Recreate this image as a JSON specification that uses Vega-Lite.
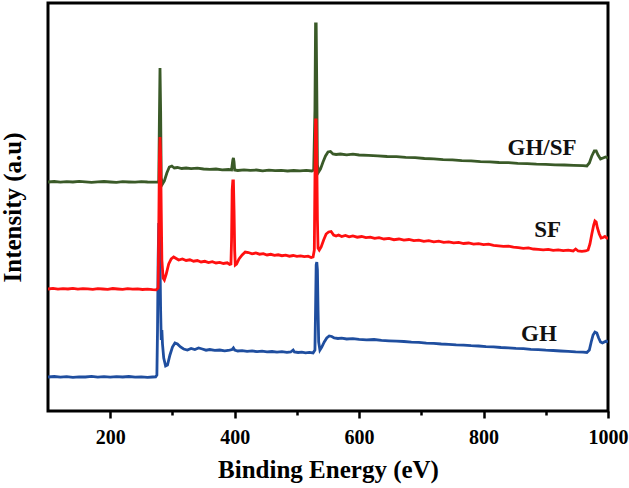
{
  "$schema": "https://vega.github.io/schema/vega-lite/v6.json",
  "width": 560,
  "height": 408,
  "autosize": {"type": "none"},
  "padding": {"left": 48, "top": 3, "right": 21, "bottom": 77},
  "background": "white",
  "config": {"view": {"stroke": "black", "strokeWidth": 3}, "font": "Liberation Serif"},
  "datasets": {
    "ghsf": [
      {"x":100,"y":228},{"x":110,"y":228.5},{"x":120,"y":227.8},{"x":130,"y":228.3},{"x":140,"y":228},{"x":150,"y":228.6},{"x":160,"y":228.1},{"x":170,"y":227.7},{"x":180,"y":228.2},{"x":190,"y":228.5},{"x":200,"y":228},{"x":210,"y":227.6},{"x":220,"y":228.3},{"x":230,"y":228},{"x":240,"y":227.8},{"x":250,"y":228.4},{"x":260,"y":228},{"x":270,"y":227.9},{"x":276,"y":228},{"x":278,"y":229},{"x":279,"y":290},{"x":280,"y":342},{"x":281,"y":300},{"x":282,"y":232},{"x":284,"y":226},{"x":287,"y":229},{"x":291,"y":237},{"x":295,"y":243},{"x":299,"y":244},{"x":303,"y":242},{"x":308,"y":242.5},{"x":315,"y":241.5},{"x":322,"y":242},{"x":330,"y":241.3},{"x":340,"y":241.8},{"x":350,"y":241},{"x":360,"y":240.6},{"x":370,"y":241},{"x":380,"y":240.2},{"x":390,"y":240.5},{"x":395,"y":240},{"x":397,"y":250},{"x":398,"y":252},{"x":399,"y":248},{"x":400,"y":240},{"x":405,"y":239.5},{"x":415,"y":240.2},{"x":425,"y":239.6},{"x":435,"y":240},{"x":445,"y":239.2},{"x":455,"y":239.8},{"x":465,"y":239.3},{"x":475,"y":239.7},{"x":485,"y":239},{"x":495,"y":239.5},{"x":505,"y":239.2},{"x":515,"y":239.6},{"x":524,"y":239},{"x":527,"y":240},{"x":529,"y":300},{"x":530,"y":386},{"x":531,"y":386},{"x":532,"y":320},{"x":533,"y":245},{"x":535,"y":238},{"x":538,"y":241},{"x":542,"y":248},{"x":546,"y":254},{"x":550,"y":258},{"x":554,"y":258.5},{"x":558,"y":256},{"x":563,"y":255.5},{"x":570,"y":256},{"x":580,"y":255.2},{"x":590,"y":255.8},{"x":600,"y":255},{"x":615,"y":254.6},{"x":630,"y":254.2},{"x":645,"y":253.5},{"x":660,"y":253.3},{"x":675,"y":252.6},{"x":690,"y":252.3},{"x":705,"y":251.5},{"x":720,"y":251.2},{"x":735,"y":250.4},{"x":750,"y":250.1},{"x":765,"y":249.4},{"x":780,"y":249.2},{"x":795,"y":248.4},{"x":810,"y":248.1},{"x":825,"y":247.5},{"x":840,"y":247.3},{"x":855,"y":246.6},{"x":870,"y":246.4},{"x":885,"y":245.8},{"x":900,"y":245.6},{"x":915,"y":245.2},{"x":930,"y":245},{"x":945,"y":244.6},{"x":960,"y":244.3},{"x":966,"y":244},{"x":970,"y":247},{"x":974,"y":254},{"x":978,"y":259},{"x":981,"y":259},{"x":984,"y":255},{"x":988,"y":251},{"x":992,"y":252},{"x":996,"y":253},{"x":1000,"y":252}
    ],
    "sf": [
      {"x":100,"y":121},{"x":108,"y":121.6},{"x":116,"y":120.8},{"x":124,"y":121.4},{"x":132,"y":121},{"x":140,"y":121.7},{"x":148,"y":120.9},{"x":156,"y":121.3},{"x":164,"y":121.1},{"x":172,"y":120.6},{"x":180,"y":121.4},{"x":188,"y":121},{"x":196,"y":120.7},{"x":204,"y":121.5},{"x":212,"y":121},{"x":220,"y":120.6},{"x":228,"y":121.3},{"x":236,"y":120.8},{"x":244,"y":121.2},{"x":252,"y":120.5},{"x":260,"y":120.9},{"x":268,"y":120.3},{"x":274,"y":120.2},{"x":277,"y":122},{"x":278,"y":180},{"x":279,"y":250},{"x":280,"y":273},{"x":281,"y":255},{"x":282,"y":200},{"x":283,"y":150},{"x":285,"y":132},{"x":287,"y":130},{"x":290,"y":136},{"x":294,"y":146},{"x":298,"y":151},{"x":302,"y":153},{"x":306,"y":151.5},{"x":310,"y":150},{"x":316,"y":151},{"x":322,"y":149.5},{"x":328,"y":150.2},{"x":334,"y":148.8},{"x":340,"y":149.5},{"x":346,"y":148},{"x":352,"y":148.7},{"x":358,"y":147.5},{"x":364,"y":148.3},{"x":370,"y":147},{"x":376,"y":147.6},{"x":382,"y":146.5},{"x":388,"y":147.2},{"x":392,"y":145.5},{"x":394,"y":146},{"x":395,"y":170},{"x":396,"y":220},{"x":397,"y":229},{"x":398,"y":229},{"x":399,"y":200},{"x":400,"y":160},{"x":401,"y":145},{"x":403,"y":146},{"x":407,"y":151},{"x":412,"y":155},{"x":417,"y":158},{"x":422,"y":157.5},{"x":428,"y":156.2},{"x":434,"y":157},{"x":440,"y":155.8},{"x":446,"y":156.3},{"x":452,"y":155},{"x":458,"y":155.7},{"x":464,"y":154.6},{"x":470,"y":155.2},{"x":476,"y":154.3},{"x":482,"y":154.9},{"x":488,"y":153.8},{"x":494,"y":154.5},{"x":500,"y":153.6},{"x":506,"y":154.2},{"x":512,"y":153.4},{"x":518,"y":153.8},{"x":523,"y":152.5},{"x":526,"y":153},{"x":528,"y":160},{"x":529,"y":230},{"x":530,"y":290},{"x":531,"y":290},{"x":532,"y":250},{"x":533,"y":190},{"x":534,"y":162},{"x":536,"y":160},{"x":539,"y":163},{"x":543,"y":170},{"x":547,"y":176},{"x":551,"y":178},{"x":555,"y":178.5},{"x":559,"y":175},{"x":563,"y":174},{"x":567,"y":175},{"x":572,"y":173.5},{"x":578,"y":174.6},{"x":584,"y":173.2},{"x":590,"y":174},{"x":597,"y":172.8},{"x":604,"y":173.5},{"x":611,"y":172.3},{"x":618,"y":172.8},{"x":625,"y":171.6},{"x":632,"y":172.3},{"x":640,"y":171},{"x":648,"y":171.6},{"x":656,"y":170.3},{"x":664,"y":171},{"x":672,"y":169.8},{"x":680,"y":170.5},{"x":688,"y":169.4},{"x":696,"y":169.8},{"x":704,"y":168.6},{"x":712,"y":169.3},{"x":720,"y":168.2},{"x":728,"y":168.8},{"x":736,"y":167.6},{"x":744,"y":168.2},{"x":752,"y":167.1},{"x":760,"y":167.6},{"x":768,"y":166.5},{"x":776,"y":167},{"x":784,"y":165.8},{"x":792,"y":166.4},{"x":800,"y":165.3},{"x":808,"y":165.8},{"x":816,"y":164.6},{"x":824,"y":164.2},{"x":832,"y":163.6},{"x":840,"y":163.9},{"x":848,"y":162.8},{"x":856,"y":162.3},{"x":864,"y":161.7},{"x":872,"y":162.1},{"x":880,"y":161},{"x":888,"y":160.6},{"x":896,"y":160.2},{"x":904,"y":160.7},{"x":912,"y":159.7},{"x":920,"y":160.1},{"x":928,"y":159.3},{"x":936,"y":159.8},{"x":944,"y":159},{"x":948,"y":161},{"x":952,"y":159},{"x":958,"y":158.6},{"x":964,"y":159},{"x":968,"y":160},{"x":971,"y":166},{"x":974,"y":176},{"x":977,"y":185},{"x":979,"y":189},{"x":981,"y":188},{"x":983,"y":182},{"x":986,"y":176},{"x":989,"y":172},{"x":992,"y":172.5},{"x":995,"y":173.5},{"x":998,"y":172},{"x":1000,"y":172}
    ],
    "gh": [
      {"x":100,"y":33},{"x":110,"y":33.5},{"x":120,"y":32.8},{"x":130,"y":33.3},{"x":140,"y":32.7},{"x":150,"y":33.2},{"x":160,"y":33},{"x":170,"y":33.6},{"x":180,"y":32.9},{"x":190,"y":33.3},{"x":200,"y":32.8},{"x":210,"y":33.4},{"x":220,"y":33},{"x":230,"y":33.5},{"x":240,"y":32.9},{"x":250,"y":33.2},{"x":260,"y":32.7},{"x":268,"y":33},{"x":273,"y":33.2},{"x":275,"y":35},{"x":276,"y":80},{"x":277,"y":150},{"x":278,"y":187},{"x":279,"y":180},{"x":280,"y":150},{"x":281,"y":100},{"x":282,"y":70},{"x":283,"y":80},{"x":284,"y":66},{"x":286,"y":52},{"x":289,"y":44},{"x":292,"y":45},{"x":296,"y":55},{"x":300,"y":63},{"x":304,"y":67},{"x":308,"y":66},{"x":313,"y":63},{"x":318,"y":61},{"x":324,"y":60},{"x":330,"y":61.5},{"x":336,"y":60.5},{"x":342,"y":62},{"x":348,"y":61},{"x":354,"y":59.8},{"x":360,"y":60.5},{"x":368,"y":59.6},{"x":376,"y":60},{"x":384,"y":59.2},{"x":392,"y":59.8},{"x":396,"y":60.5},{"x":398,"y":62},{"x":400,"y":60},{"x":405,"y":59},{"x":412,"y":59.4},{"x":420,"y":58.6},{"x":428,"y":59.1},{"x":436,"y":58.3},{"x":444,"y":58.8},{"x":452,"y":58.1},{"x":460,"y":58.5},{"x":468,"y":57.8},{"x":476,"y":58.3},{"x":484,"y":57.6},{"x":490,"y":58},{"x":494,"y":60},{"x":496,"y":58},{"x":502,"y":57.5},{"x":508,"y":57.9},{"x":514,"y":57.2},{"x":520,"y":57.6},{"x":526,"y":57},{"x":529,"y":60},{"x":530,"y":100},{"x":531,"y":145},{"x":532,"y":148},{"x":533,"y":140},{"x":534,"y":100},{"x":535,"y":68},{"x":537,"y":60},{"x":540,"y":63},{"x":544,"y":68},{"x":548,"y":72},{"x":552,"y":74},{"x":556,"y":73.5},{"x":560,"y":72},{"x":566,"y":71.5},{"x":572,"y":71.8},{"x":580,"y":71},{"x":590,"y":71.3},{"x":600,"y":70.6},{"x":612,"y":70.2},{"x":624,"y":70.5},{"x":636,"y":69.6},{"x":648,"y":69.2},{"x":660,"y":68.8},{"x":672,"y":68.5},{"x":684,"y":67.8},{"x":696,"y":67.6},{"x":708,"y":66.9},{"x":720,"y":66.6},{"x":732,"y":66},{"x":744,"y":65.7},{"x":756,"y":65.1},{"x":768,"y":64.8},{"x":780,"y":64.3},{"x":792,"y":64},{"x":804,"y":63.4},{"x":816,"y":63.1},{"x":828,"y":62.5},{"x":840,"y":62.2},{"x":852,"y":61.6},{"x":864,"y":61.3},{"x":876,"y":60.7},{"x":888,"y":60.4},{"x":900,"y":59.8},{"x":912,"y":59.5},{"x":924,"y":59},{"x":936,"y":58.6},{"x":948,"y":58.1},{"x":960,"y":57.8},{"x":966,"y":57.5},{"x":970,"y":60},{"x":973,"y":68},{"x":976,"y":75},{"x":979,"y":78},{"x":982,"y":77},{"x":985,"y":72},{"x":988,"y":68},{"x":991,"y":67},{"x":994,"y":68},{"x":997,"y":69},{"x":1000,"y":68}
    ],
    "labels": [
      {"x":894,"y":262,"name":"GH/SF"},
      {"x":903,"y":180,"name":"SF"},
      {"x":889,"y":76,"name":"GH"}
    ]
  },
  "encoding": {
    "x": {
      "field": "x", "type": "quantitative",
      "scale": {"domain": [100, 1000], "nice": false, "zero": false},
      "axis": {
        "values": [200, 300, 400, 500, 600, 700, 800, 900, 1000],
        "labelExpr": "datum.value % 200 === 0 ? format(datum.value, 'd') : ''",
        "tickSize": {"condition": {"test": "datum.value % 200 === 0", "value": 7}, "value": 4},
        "tickColor": "black", "tickWidth": 2.5,
        "domain": false, "grid": false,
        "labelFont": "Liberation Serif", "labelFontWeight": "bold", "labelFontSize": 20, "labelColor": "black",
        "labelPadding": 9, "labelFlush": false, "labelOverlap": false,
        "title": "Binding Energy (eV)",
        "titleFont": "Liberation Serif", "titleFontWeight": "bold", "titleFontSize": 25, "titleColor": "black",
        "titlePadding": 10
      }
    },
    "y": {
      "field": "y", "type": "quantitative",
      "scale": {"domain": [-1, 407], "nice": false, "zero": false},
      "axis": {
        "labels": false, "ticks": false, "domain": false, "grid": false,
        "title": "Intensity (a.u)",
        "titleFont": "Liberation Serif", "titleFontWeight": "bold", "titleFontSize": 25, "titleColor": "black",
        "titlePadding": 23
      }
    }
  },
  "layer": [
    {"data": {"name": "ghsf"}, "mark": {"type": "line", "color": "#3a5a28", "strokeWidth": 2.8, "clip": true}},
    {"data": {"name": "gh"}, "mark": {"type": "line", "color": "#1f4e9f", "strokeWidth": 2.8, "clip": true}},
    {"data": {"name": "sf"}, "mark": {"type": "line", "color": "#ff1010", "strokeWidth": 2.8, "clip": true}},
    {"data": {"name": "labels"}, "mark": {"type": "text", "font": "Liberation Serif", "fontWeight": "bold", "fontSize": 23, "color": "#111111", "baseline": "middle", "align": "center"},
     "encoding": {"text": {"field": "name"}}}
  ]
}
